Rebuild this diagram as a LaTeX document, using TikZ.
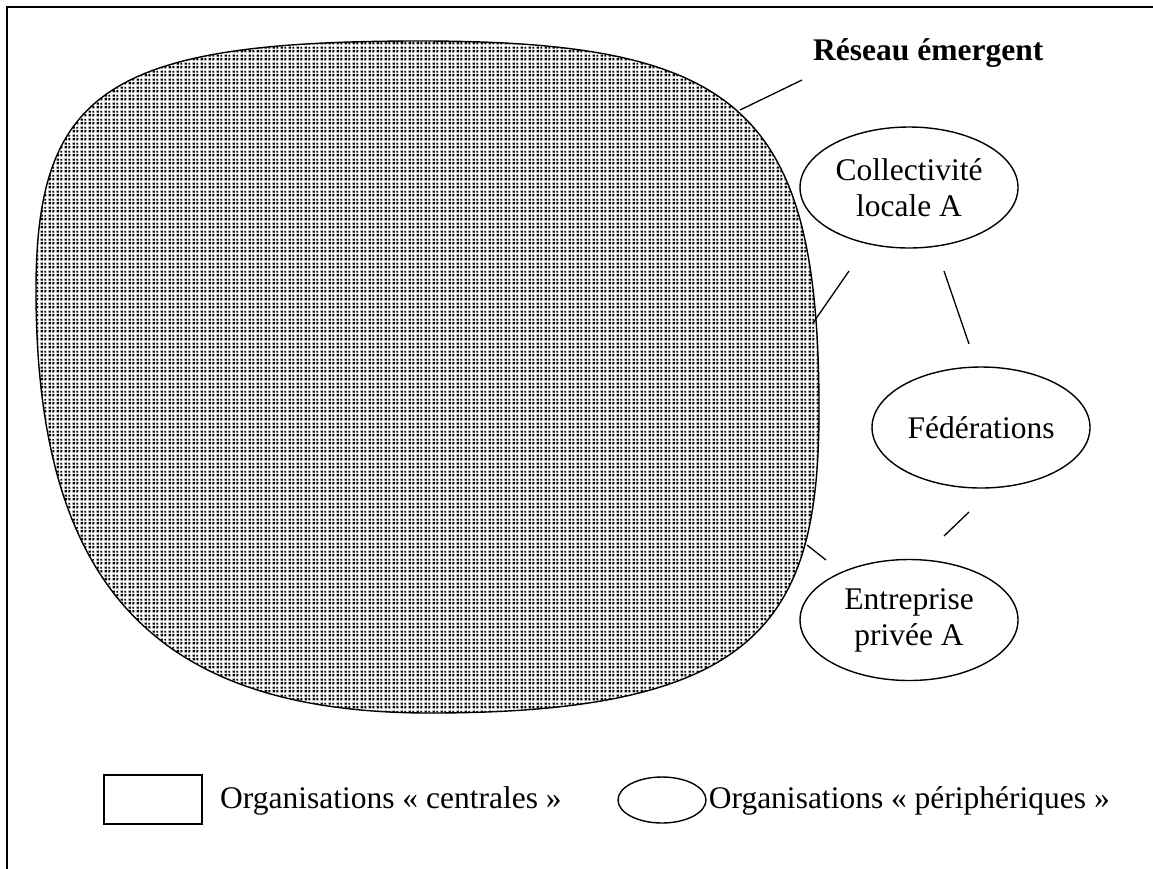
\documentclass[tikz,border=0pt]{standalone}
\usepackage{fontspec}
\setmainfont{Liberation Serif}
\usetikzlibrary{shapes.geometric,patterns}
\pgfdeclarepatternformonly{halftone}{\pgfpointorigin}{\pgfpoint{8pt}{8pt}}{\pgfpoint{8pt}{8pt}}{%
  \pgfpathrectangle{\pgfpoint{0.6pt}{0.6pt}}{\pgfpoint{2.8pt}{2.8pt}}%
  \pgfpathrectangle{\pgfpoint{4.8pt}{0.8pt}}{\pgfpoint{2.4pt}{2.4pt}}%
  \pgfpathrectangle{\pgfpoint{0.8pt}{4.8pt}}{\pgfpoint{2.4pt}{2.4pt}}%
  \pgfpathrectangle{\pgfpoint{5pt}{5pt}}{\pgfpoint{2pt}{2pt}}%
  \pgfusepath{fill}}
\tikzset{
  txt/.style={font=\fontsize{31.5}{36}\selectfont, inner sep=0pt},
  org/.style={ellipse, draw, line width=1.4pt, minimum width=218pt, minimum height=121pt,
              inner sep=0pt, align=center, font=\fontsize{31.5}{36}\selectfont},
  link/.style={line width=1.3pt},
  frame/.style={line width=2pt}
}
\begin{document}
\begin{tikzpicture}[x=1pt,y=-1pt]
\useasboundingbox (0,0) rectangle (1153,868);
\fill[white] (0,0) rectangle (1153,868);
% outer frame (right and bottom sides lie outside the picture)
\draw[frame] (1170,6.5) -- (7,6.5) -- (7,880);
% emergent network blob
\draw[line width=1.4pt, pattern=halftone]
  (420,41) .. controls (740,41) and (819,110) .. (819,410)
           .. controls (819,620) and (760,713) .. (430,713)
           .. controls (150,713) and (36,580) .. (36,290)
           .. controls (36,90) and (110,41) .. (420,41) -- cycle;
\node[txt, font=\fontsize{31.5}{36}\selectfont\bfseries, anchor=base west] (title) at (813,60) {Réseau émergent};
\coordinate (blobA) at (740,110);
\coordinate (titleEnd) at (802,80);
\draw[link] (blobA) -- (titleEnd);
% peripheral organisations
\node[org] (coll) at (909,187.5) {Collectivité\\locale A};
\node[org] (fed) at (981,427.5) {Fédérations};
\node[org] (ent) at (909,620) {Entreprise\\privée A};
\coordinate (c1) at (849,271);
\coordinate (b1) at (813,323);
\coordinate (c2) at (944,271);
\coordinate (f1) at (969,344);
\coordinate (f2) at (969,512);
\coordinate (e1) at (944,536);
\coordinate (b2) at (807,545);
\coordinate (e2) at (826,560);
\draw[link] (c1) -- (b1);
\draw[link] (c2) -- (f1);
\draw[link] (f2) -- (e1);
\draw[link] (b2) -- (e2);
% legend
\node[draw, line width=1.6pt, minimum width=98pt, minimum height=49pt, inner sep=0pt] (keybox) at (153,799.5) {};
\node[txt, anchor=base west] (keytxt1) at (220,808) {Organisations « centrales »};
\node[ellipse, draw, line width=1.4pt, minimum width=88pt, minimum height=46pt, inner sep=0pt] (keyell) at (662,800) {};
\node[txt, anchor=base east] (keytxt2) at (1110,808) {Organisations « périphériques »};
\end{tikzpicture}
\end{document}
